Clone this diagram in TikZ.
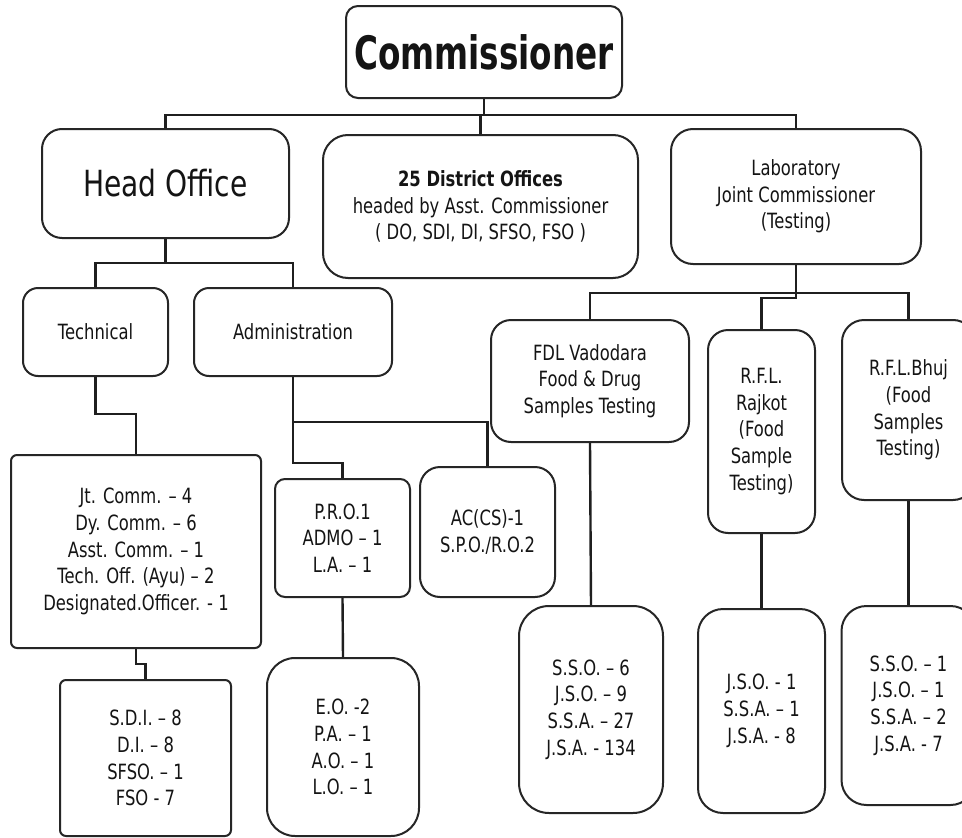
\documentclass[tikz,border=0pt]{standalone}
\usepackage{fontspec}
\setmainfont[FakeStretch=0.78]{DejaVu Sans}
\newfontfamily\titlefont[FakeStretch=0.71]{DejaVu Sans}
\begin{document}
\begin{tikzpicture}[x=1pt,y=-1pt,
  box/.style={draw=black!85, line width=2pt, align=center, inner sep=0pt,
     text=black!92, font=\fontsize{21}{26.7}\selectfont},
  conn/.style={draw=black!88, line width=2.4pt}]
\useasboundingbox (0,0) rectangle (962,838);
\clip (0,0) rectangle (962,838);
\fill[white] (0,0) rectangle (962,838);

% level 0
\node[box, rounded corners=12pt, minimum width=276pt, minimum height=92pt,
  font=\titlefont\bfseries\fontsize{46}{50}\selectfont] (comm) at (484,52) {Commissioner};

% level 1
\node[box, rounded corners=20pt, minimum width=247pt, minimum height=109pt,
  font=\fontsize{36}{40}\selectfont] (ho) at (165.5,183.5) {Head Office};
\node[box, rounded corners=25pt, minimum width=315pt, minimum height=143pt] (dist) at (480.5,206.5)
  {\textbf{25 District Offices}\\headed by Asst. Commissioner\\( DO, SDI, DI, SFSO, FSO )};
\node[box, rounded corners=22pt, minimum width=250pt, minimum height=135pt] (lab) at (796,196.5)
  {Laboratory\\Joint Commissioner\\(Testing)};

% head office branch
\node[box, rounded corners=15pt, minimum width=145pt, minimum height=88pt] (tech) at (95.5,332) {Technical};
\node[box, rounded corners=15pt, minimum width=198pt, minimum height=88pt] (adm) at (293,332) {Administration};
\node[box, rounded corners=6pt, minimum width=250pt, minimum height=193pt] (jt) at (136,551.5)
  {Jt. Comm. – 4\\Dy. Comm. – 6\\Asst. Comm. – 1\\Tech. Off. (Ayu) – 2\\Designated.Officer. - 1};
\node[box, rounded corners=6pt, minimum width=171pt, minimum height=156pt] (sdi) at (145.5,758)
  {S.D.I. – 8\\D.I. – 8\\SFSO. – 1\\FSO - 7};
\node[box, rounded corners=10pt, minimum width=135pt, minimum height=118pt] (pro) at (342.5,538)
  {P.R.O.1\\ADMO – 1\\L.A. – 1};
\node[box, rounded corners=20pt, minimum width=135pt, minimum height=130pt] (ac) at (487.5,532)
  {AC(CS)-1\\S.P.O./R.O.2};
\node[box, rounded corners=28pt, minimum width=152pt, minimum height=178pt] (eo) at (343,747)
  {E.O. -2\\P.A. – 1\\A.O. – 1\\L.O. – 1};

% laboratory branch
\node[box, rounded corners=20pt, minimum width=198pt, minimum height=122pt] (fdl) at (590,381)
  {FDL Vadodara\\Food \& Drug\\Samples Testing};
\node[box, rounded corners=20pt, minimum width=107pt, minimum height=203pt] (raj) at (761.5,431.5)
  {R.F.L.\\Rajkot\\(Food\\Sample\\Testing)};
\node[box, rounded corners=22pt, minimum width=133pt, minimum height=180pt] (bhuj) at (908.5,410)
  {R.F.L.Bhuj\\(Food\\Samples\\Testing)};
\node[box, rounded corners=30pt, minimum width=144pt, minimum height=207pt] (fdlb) at (591,709.5)
  {S.S.O. – 6\\J.S.O. – 9\\S.S.A. – 27\\J.S.A. - 134};
\node[box, rounded corners=25pt, minimum width=127pt, minimum height=204pt] (rajb) at (761.5,711)
  {J.S.O. - 1\\S.S.A. – 1\\J.S.A. - 8};
\node[box, rounded corners=25pt, minimum width=134pt, minimum height=199pt] (bhujb) at (908.5,705.5)
  {S.S.O. – 1\\J.S.O. – 1\\S.S.A. – 2\\J.S.A. - 7};

% bend levels
\coordinate (b1) at (0,115);
\coordinate (b2) at (0,263);
\coordinate (b3) at (0,414);
\coordinate (b4) at (0,422);
\coordinate (b5) at (0,463);
\coordinate (b6) at (0,664);
\coordinate (b7) at (0,293);
\coordinate (b8) at (0,298);

% connectors
\draw[conn] (comm.south) -- (comm.south |- b1);
\draw[conn] (ho.north) -- (ho.north |- b1) -- (lab.north |- b1) -- (lab.north);
\draw[conn] (dist.north) -- (dist.north |- b1);

\draw[conn] (ho.south) -- (ho.south |- b2);
\draw[conn] (tech.north) -- (tech.north |- b2) -- (adm.north |- b2) -- (adm.north);

\draw[conn] (tech.south) |- (jt.north |- b3) -- (jt.north);
\draw[conn] (jt.south) |- (sdi.north |- b6) -- (sdi.north);

\draw[conn] (adm.south) |- (pro.north |- b5) -- (pro.north);
\draw[conn] (adm.south |- b4) -| (ac.north);
\draw[conn] (pro.south) -- (eo.north);

\draw[conn] (lab.south) -- (lab.south |- b7);
\draw[conn] (fdl.north) |- (bhuj.north |- b7) -- (bhuj.north);
\draw[conn] (lab.south |- b7) -- (lab.south |- b8) -| (raj.north);
\draw[conn] (fdl.south) -- (fdlb.north);
\draw[conn] (raj.south) -- (rajb.north);
\draw[conn] (bhuj.south) -- (bhujb.north);
\end{tikzpicture}
\end{document}
